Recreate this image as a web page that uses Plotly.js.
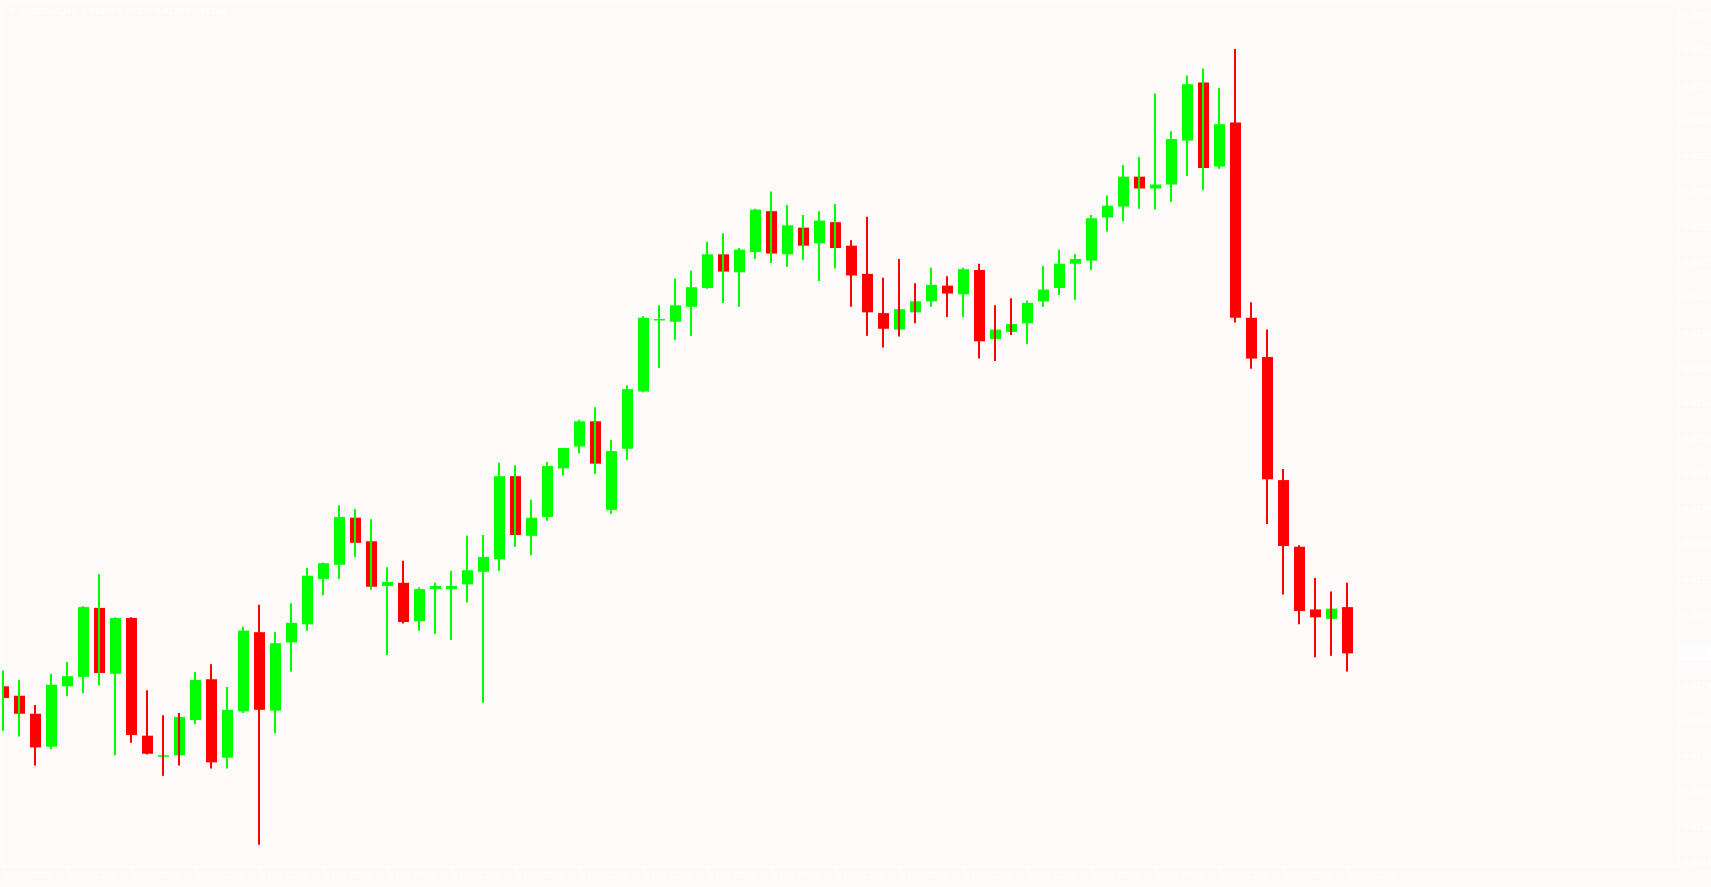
<!DOCTYPE html>
<html>
<head>
<meta charset="utf-8">
<script src="https://cdn.plot.ly/plotly-3.0.1.min.js"></script>
<style>
  html, body { margin: 0; padding: 0; background: #fffafa; }
  #chart { width: 1711px; height: 887px; }
</style>
</head>
<body>
<div id="chart"></div>
<script>
// AUDCAD, H1 — bars from 2 Dec 2025 09:00 to 5 Dec 2025 21:00
const symbolTitle = "AUDCAD,H1";

const openP = [
  0.91738, 0.91726, 0.91703, 0.91661, 0.91738, 0.91750, 0.91838, 0.91754, 0.91825, 0.91675,
  0.91648, 0.91650, 0.91695, 0.91747, 0.91647, 0.91706, 0.91807, 0.91707, 0.91794, 0.91817,
  0.91875, 0.91893, 0.91953, 0.91923, 0.91866, 0.91870, 0.91821, 0.91862, 0.91862, 0.91868,
  0.91884, 0.91900, 0.92006, 0.91930, 0.91954, 0.92016, 0.92044, 0.92076, 0.91963, 0.92041,
  0.92114, 0.92205, 0.92203, 0.92222, 0.92246, 0.92289, 0.92266, 0.92292, 0.92344, 0.92289,
  0.92323, 0.92303, 0.92330, 0.92300, 0.92264, 0.92214, 0.92193, 0.92215, 0.92229, 0.92249,
  0.92238, 0.92269, 0.92181, 0.92190, 0.92201, 0.92229, 0.92246, 0.92277, 0.92281, 0.92336,
  0.92350, 0.92388, 0.92373, 0.92378, 0.92434, 0.92508, 0.92401, 0.92457, 0.92208, 0.92158,
  0.92001, 0.91916, 0.91836, 0.91824, 0.91839
];
const highP = [
  0.91758, 0.91746, 0.91714, 0.91754, 0.91769, 0.91840, 0.91881, 0.91826, 0.91826, 0.91733,
  0.91701, 0.91704, 0.91756, 0.91766, 0.91737, 0.91814, 0.91842, 0.91807, 0.91844, 0.91889,
  0.91896, 0.91969, 0.91964, 0.91951, 0.91890, 0.91898, 0.91864, 0.91870, 0.91885, 0.91930,
  0.91931, 0.92023, 0.92020, 0.91976, 0.92024, 0.92042, 0.92078, 0.92094, 0.92052, 0.92122,
  0.92210, 0.92224, 0.92258, 0.92268, 0.92305, 0.92316, 0.92297, 0.92347, 0.92369, 0.92352,
  0.92339, 0.92344, 0.92353, 0.92307, 0.92337, 0.92259, 0.92283, 0.92252, 0.92272, 0.92261,
  0.92272, 0.92277, 0.92224, 0.92233, 0.92230, 0.92274, 0.92295, 0.92289, 0.92339, 0.92364,
  0.92403, 0.92413, 0.92494, 0.92446, 0.92517, 0.92526, 0.92501, 0.92551, 0.92228, 0.92193,
  0.92015, 0.91918, 0.91876, 0.91859, 0.91870
];
const lowP = [
  0.91681, 0.91674, 0.91637, 0.91658, 0.91726, 0.91729, 0.91739, 0.91650, 0.91666, 0.91651,
  0.91624, 0.91637, 0.91690, 0.91633, 0.91633, 0.91704, 0.91536, 0.91678, 0.91757, 0.91809,
  0.91854, 0.91875, 0.91903, 0.91861, 0.91778, 0.91818, 0.91809, 0.91805, 0.91797, 0.91845,
  0.91717, 0.91885, 0.91916, 0.91905, 0.91949, 0.92007, 0.92035, 0.92009, 0.91958, 0.92027,
  0.92113, 0.92144, 0.92180, 0.92185, 0.92245, 0.92227, 0.92222, 0.92283, 0.92278, 0.92273,
  0.92282, 0.92255, 0.92271, 0.92222, 0.92185, 0.92170, 0.92184, 0.92201, 0.92222, 0.92209,
  0.92209, 0.92156, 0.92153, 0.92186, 0.92175, 0.92222, 0.92237, 0.92231, 0.92269, 0.92318,
  0.92331, 0.92347, 0.92346, 0.92356, 0.92389, 0.92371, 0.92398, 0.92202, 0.92143, 0.91945,
  0.91855, 0.91817, 0.91775, 0.91777, 0.91757
];
const closeP = [
  0.91723, 0.91703, 0.91660, 0.91740, 0.91751, 0.91839, 0.91755, 0.91825, 0.91676, 0.91652,
  0.91650, 0.91699, 0.91746, 0.91641, 0.91708, 0.91809, 0.91708, 0.91793, 0.91819, 0.91879,
  0.91895, 0.91954, 0.91921, 0.91865, 0.91871, 0.91820, 0.91862, 0.91866, 0.91866, 0.91886,
  0.91903, 0.92006, 0.91931, 0.91953, 0.92019, 0.92042, 0.92076, 0.92022, 0.92038, 0.92117,
  0.92208, 0.92206, 0.92224, 0.92247, 0.92289, 0.92267, 0.92295, 0.92346, 0.92290, 0.92326,
  0.92300, 0.92332, 0.92297, 0.92262, 0.92215, 0.92194, 0.92219, 0.92229, 0.92250, 0.92239,
  0.92270, 0.92178, 0.92193, 0.92200, 0.92227, 0.92244, 0.92277, 0.92283, 0.92335, 0.92351,
  0.92388, 0.92373, 0.92378, 0.92436, 0.92506, 0.92399, 0.92455, 0.92208, 0.92156, 0.92002,
  0.91917, 0.91834, 0.91826, 0.91837, 0.91780
];
// shadow (wick) colour as drawn on the chart: 1 = up colour, 0 = down colour
const shadowUp = [
  1,1,0,1,1,1,1,1,0,0,
  0,0,1,0,1,1,0,1,1,1,
  1,1,1,1,1,0,1,1,1,1,
  1,1,1,1,1,1,1,1,1,1,
  1,1,1,1,1,1,1,1,1,1,
  1,1,1,0,0,0,0,0,1,0,
  1,0,0,0,1,1,1,1,1,1,
  1,1,1,1,1,1,1,0,0,0,
  0,0,0,0,0
];

// time-axis labels (every 4th bar)
const timeTickIndex = [0,4,8,12,16,20,24,28,32,36,40,44,48,52,56,60,64,68,72,76,80,84];
const timeTickText = [
  "2 Dec 2025","2 Dec 13:00","2 Dec 17:00","2 Dec 21:00",
  "3 Dec 01:00","3 Dec 05:00","3 Dec 09:00","3 Dec 13:00","3 Dec 17:00","3 Dec 21:00",
  "4 Dec 01:00","4 Dec 05:00","4 Dec 09:00","4 Dec 13:00","4 Dec 17:00","4 Dec 21:00",
  "5 Dec 01:00","5 Dec 05:00","5 Dec 09:00","5 Dec 13:00","5 Dec 17:00","5 Dec 21:00"
];
// price-scale labels (bottom to top); the 0.9178 level is covered by the bid label
const priceTickVals = [
  0.915143, 0.915593, 0.916043, 0.916493, 0.916943, 0.917393, 0.917843, 0.918293, 0.918743,
  0.919193, 0.919643, 0.920093, 0.920543, 0.920993, 0.921443, 0.921893, 0.922343, 0.922793,
  0.923243, 0.923693, 0.924143, 0.924593, 0.925043, 0.925493, 0.925943
];
const priceTickText = [
  "0.9151","0.9156","0.9160","0.9165","0.9169","0.9174","","0.9183","0.9187",
  "0.9192","0.9196","0.9201","0.9205","0.9210","0.9214","0.9219","0.9223","0.9228",
  "0.9232","0.9237","0.9241","0.9246","0.9250","0.9255","0.9259"
];

const UP = "#00ff00", DOWN = "#ff0000", BG = "#fffafa", FG = "#ffffff";
const n = openP.length;
const idx = openP.map((_, i) => i);
const minBody = 0.000019;

const bodyBase = [], bodyH = [], bodyCol = [];
for (let i = 0; i < n; i++) {
  const o = openP[i], c = closeP[i];
  const lo = Math.min(o, c), h = Math.abs(c - o);
  const hh = Math.max(h, minBody);
  bodyBase.push(lo - (hh - h) / 2);
  bodyH.push(hh);
  bodyCol.push(c > o ? UP : (c < o ? DOWN : UP));
}

function wickTrace(flag, color) {
  const xs = [], ys = [];
  for (let i = 0; i < n; i++) {
    if (shadowUp[i] === flag) {
      xs.push(i - 1/32, i - 1/32, null);
      ys.push(lowP[i], highP[i], null);
    }
  }
  return { type: "scatter", mode: "lines", x: xs, y: ys,
           line: { color: color, width: 2 }, hoverinfo: "skip", connectgaps: false };
}

const traces = [
  { type: "bar", x: idx, y: bodyH, base: bodyBase, width: 0.6875,
    marker: { color: bodyCol, line: { width: 0 } }, hoverinfo: "skip" },
  wickTrace(1, UP),
  wickTrace(0, DOWN)
];

const plotL = 2, plotR = 1678, plotT = 2, plotB = 866;
const fontFam = "Liberation Sans, Arial, sans-serif";

const layout = {
  width: 1711, height: 887,
  margin: { l: plotL, r: 1711 - plotR, t: plotT, b: 887 - plotB, pad: 0 },
  paper_bgcolor: BG, plot_bgcolor: BG,
  showlegend: false, barmode: "overlay",
  xaxis: {
    range: [-0.09375, 104.65625], showgrid: false, zeroline: false,
    showline: true, linecolor: FG, linewidth: 1, mirror: true,
    ticks: "outside", ticklen: 4, tickcolor: FG, tickwidth: 1,
    tickvals: timeTickIndex, ticktext: timeTickText,
    ticklabelposition: "outside right",
    tickfont: { family: fontFam, size: 9, color: FG },
    fixedrange: true
  },
  yaxis: {
    side: "right", range: [0.915088, 0.926108], showgrid: false, zeroline: false,
    showline: true, linecolor: FG, linewidth: 1, mirror: true,
    ticks: "outside", ticklen: 3, tickcolor: FG, tickwidth: 1,
    tickvals: priceTickVals, ticktext: priceTickText,
    tickfont: { family: fontFam, size: 9, color: FG, weight: "bold" },
    fixedrange: true
  },
  annotations: [
    { xref: "paper", yref: "paper", x: (7 - plotL) / (plotR - plotL), y: 1 - (10 - plotT) / (plotB - plotT),
      xanchor: "left", yanchor: "middle", showarrow: false, text: "\u25BC",
      font: { family: fontFam, size: 7, color: FG } },
    { xref: "paper", yref: "paper", x: (18 - plotL) / (plotR - plotL), y: 1 - (10 - plotT) / (plotB - plotT),
      xanchor: "left", yanchor: "middle", showarrow: false,
      text: symbolTitle + "  " + [openP[n-1], highP[n-1], lowP[n-1], closeP[n-1]].map(v => v.toFixed(5)).join(" "),
      font: { family: fontFam, size: 9.5, color: FG, weight: "bold" } },
    { xref: "paper", yref: "y", x: 1, y: closeP[n-1], xanchor: "left", yanchor: "middle",
      showarrow: false, text: closeP[n-1].toFixed(4), align: "left",
      bgcolor: "#ffffff", borderpad: 1, width: 31, height: 10,
      font: { family: fontFam, size: 9, color: BG, weight: "bold" } }
  ]
};

Plotly.newPlot("chart", traces, layout, { displayModeBar: false, staticPlot: true });
</script>
</body>
</html>
